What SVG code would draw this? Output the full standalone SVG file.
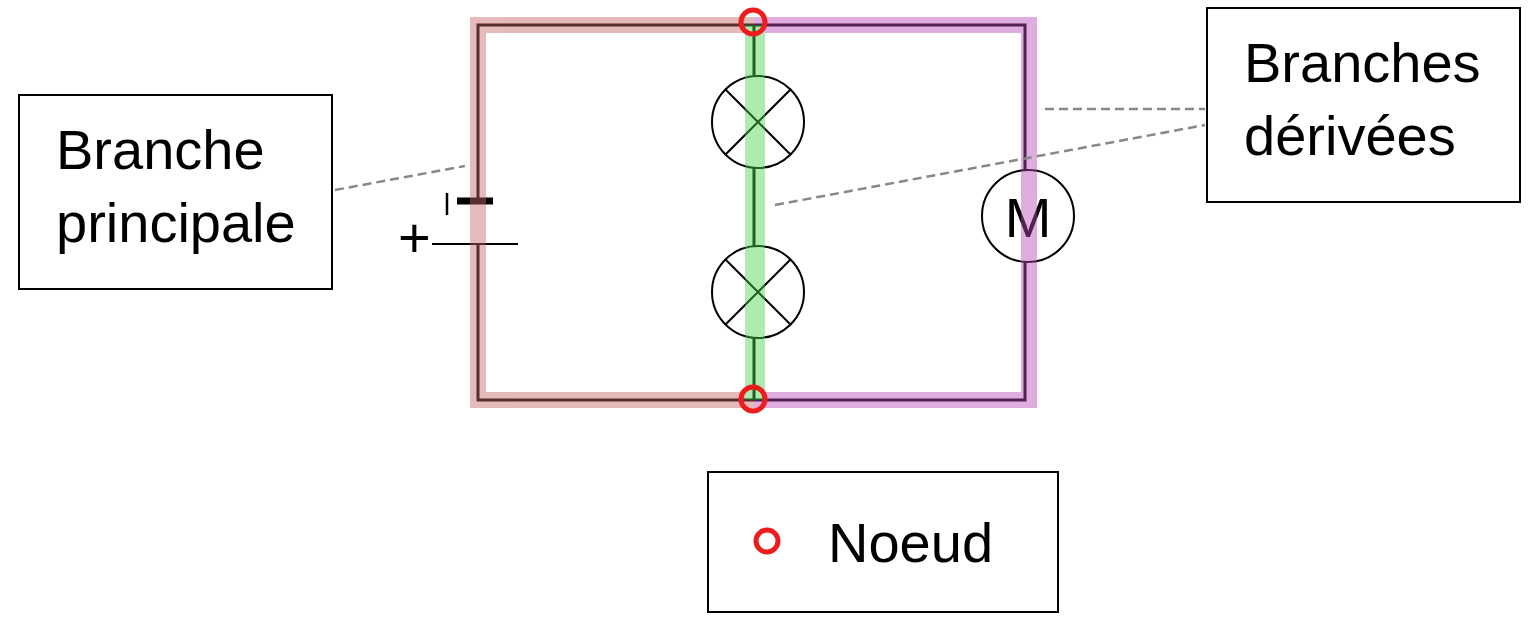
<svg xmlns="http://www.w3.org/2000/svg" width="1540" height="621" viewBox="0 0 1540 621">
<style>
.w{fill:none;stroke:#000;stroke-width:3}
.box{fill:#fff;stroke:#000;stroke-width:2}
.t{font-family:"Liberation Sans",Arial,sans-serif;font-size:56px;fill:#000}
.d{stroke:#888;stroke-width:2.5;stroke-dasharray:9 5;fill:none}
.el{fill:#fff;stroke:#000;stroke-width:2}
.node{fill:none;stroke:#ee1c1c;stroke-width:5}
</style>
<g id="wires">
<path class="w" d="M478 201 V25 H1025 V170 M1025 262 V400 H478 V244"/>
<path class="w" d="M754 25 V76 M754 168 V246 M754 338 V400"/>
</g>
<g id="battery">
<line x1="432" y1="244" x2="518" y2="244" stroke="#000" stroke-width="2"/>
<line x1="457" y1="201" x2="493" y2="201" stroke="#000" stroke-width="7"/>
<line x1="447" y1="193" x2="447" y2="215" stroke="#000" stroke-width="2.5"/>
<text class="t" x="398" y="257" font-size="32">+</text>
</g>
<g id="lamp1"><circle class="el" cx="758" cy="122" r="46"/><path d="M725 89 L791 155 M791 89 L725 155" stroke="#000" stroke-width="2"/></g>
<g id="lamp2"><circle class="el" cx="758" cy="292" r="46"/><path d="M725 259 L791 325 M791 259 L725 325" stroke="#000" stroke-width="2"/></g>
<g id="motor"><circle class="el" cx="1028" cy="216" r="46"/><text class="t" x="1028" y="237" text-anchor="middle" font-size="60">M</text></g>
<g id="highlights" opacity="0.45">
<path d="M754 25 H478 V400 H754" fill="none" stroke="#c96666" stroke-width="16"/>
<path d="M754 25 H1029 V400 H754" fill="none" stroke="#b94cbc" stroke-width="16"/>
<line x1="755" y1="25" x2="755" y2="400" stroke="#4fd24f" stroke-width="20"/>
</g>
<g id="connectors">
<line class="d" x1="335" y1="190" x2="465" y2="166"/>
<line class="d" x1="1045" y1="109" x2="1205" y2="109"/>
<line class="d" x1="775" y1="205" x2="1205" y2="125"/>
</g>
<g id="nodes"><circle class="node" cx="753" cy="22" r="12"/><circle class="node" cx="753" cy="399" r="12"/></g>
<g id="label-principale"><rect class="box" x="19" y="95" width="313" height="194"/><text class="t" x="56" y="169">Branche</text><text class="t" x="56" y="242">principale</text></g>
<g id="label-derivees"><rect class="box" x="1207" y="8" width="313" height="194"/><text class="t" x="1244" y="82">Branches</text><text class="t" x="1244" y="155">dérivées</text></g>
<g id="legend"><rect class="box" x="708" y="472" width="350" height="140"/><circle class="node" cx="767" cy="541" r="11"/><text class="t" x="828" y="562">Noeud</text></g>
</svg>
